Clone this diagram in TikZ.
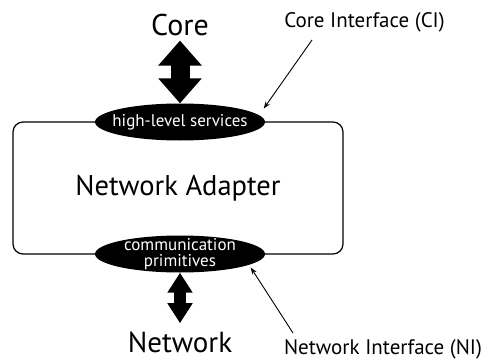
\documentclass[tikz,border=0pt]{standalone}
\usepackage{fontspec}
\setmainfont{PT Sans}
\usetikzlibrary{arrows.meta,shapes.geometric}
\begin{document}
\begin{tikzpicture}[x=1pt,y=-1pt,
  iface/.style={ellipse,fill=black,inner sep=0pt,minimum width=170pt,minimum height=37pt},
  ifacetext/.style={text=white,font=\fontsize{17}{16}\selectfont,align=center,inner sep=0pt},
  bigarrow/.style={line width=19pt,{Triangle[length=25pt,width=42pt]}-{Triangle[length=25pt,width=42pt]}},
  smallarrow/.style={line width=12pt,{Triangle[length=20pt,width=24pt]}-{Triangle[length=20pt,width=24pt]}},
  pointer/.style={line width=0.9pt,-{Stealth[length=7pt,width=5pt]}}]
\useasboundingbox (0,0) rectangle (482,361);
% the adapter box
\node[draw,line width=1.2pt,rounded corners=10pt,minimum width=330pt,minimum height=132pt,
  inner sep=0pt,font=\fontsize{28.5}{30}\selectfont] (adapter) at (178,188) {Network Adapter};
% interfaces
\node[iface,label={[ifacetext]center:high-level services}] (ci) at (180,122) {};
\node[iface,label={[ifacetext]center:communication\\primitives}] (ni) at (180,254) {};
% ends
\node[inner sep=0pt,font=\fontsize{30}{32}\selectfont,anchor=base] (core) at (180,36) {Core};
\node[inner sep=0pt,font=\fontsize{29}{30}\selectfont,anchor=base] (net) at (180,352) {Network};
\draw[bigarrow,shorten <=4pt] (core.south) -- (ci.north);
\draw[smallarrow,shorten >=8pt] (ni.south) -- (net.north);
% interface labels
\node[inner sep=0pt,font=\fontsize{21}{22}\selectfont,anchor=base] (cil) at (364.5,28) {Core Interface (CI)};
\node[inner sep=0pt,font=\fontsize{21}{22}\selectfont,anchor=base] (nil) at (383,354) {Network Interface (NI)};
\coordinate (cip) at (312,40);
\coordinate (nip) at (293,333);
\draw[pointer,shorten >=8pt] (cip) -- (ci.5);
\draw[pointer,shorten >=3pt] (nip) -- (ni.-9);
\end{tikzpicture}
\end{document}
